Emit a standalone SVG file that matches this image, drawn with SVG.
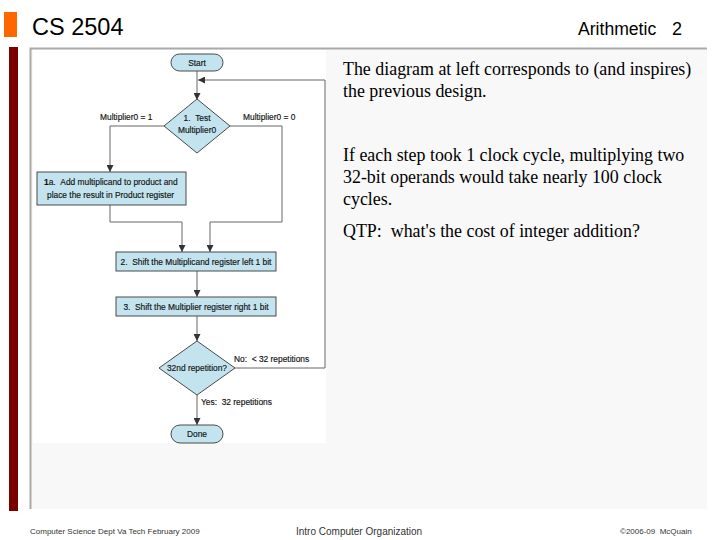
<svg xmlns="http://www.w3.org/2000/svg" width="720" height="540" viewBox="0 0 720 540">
<defs>
<marker id="ah" viewBox="0 0 10 10" refX="10" refY="5" markerWidth="7" markerHeight="7" markerUnits="userSpaceOnUse" orient="auto">
<path d="M0,0 L10,5 L0,10 z" fill="#333"/>
</marker>
<style>
.fc{fill:#c3e4ee;stroke:#4a4a4a;stroke-width:1}
.ft{font-family:"Liberation Sans",Arial,sans-serif;font-size:8.4px;fill:#111;stroke:#111;stroke-width:0.15}
.ln{fill:none;stroke:#666;stroke-width:1}
.bt{font-family:"Liberation Serif","Times New Roman",serif;font-size:17.9px;fill:#000}
.ftr{font-family:"Liberation Sans",Arial,sans-serif;fill:#333}
</style>
</defs>
<rect x="0" y="0" width="720" height="540" fill="#fff"/>
<g id="header">
<rect x="4" y="12" width="13" height="25" fill="#ff6600"/>
<text x="32" y="35" font-family="Liberation Sans,Arial,sans-serif" font-size="23.5" fill="#000">CS 2504</text>
<text x="578" y="35" font-family="Liberation Sans,Arial,sans-serif" font-size="17.6" fill="#000">Arithmetic</text>
<text x="672" y="35" font-family="Liberation Sans,Arial,sans-serif" font-size="18" fill="#000">2</text>
</g>
<g id="frame">
<rect x="9" y="47" width="9" height="464" fill="#7a0000"/>
<rect x="30" y="48" width="677" height="461" fill="#f8f8f8"/>
<path d="M30.5,509 V48.5 H707" fill="none" stroke="#aaa" stroke-width="2"/>
<rect x="33" y="50" width="293" height="393" fill="#fff"/>
</g>
<g id="connectors">
<path class="ln" d="M197,71 V100" marker-end="url(#ah)"/>
<path class="ln" d="M164,126 H110 V172" marker-end="url(#ah)"/>
<path class="ln" d="M230,126 H282 V222 H210 V252" marker-end="url(#ah)"/>
<path class="ln" d="M110,205 V222 H182 V252" marker-end="url(#ah)"/>
<path class="ln" d="M197,271 V297" marker-end="url(#ah)"/>
<path class="ln" d="M197,316 V341" marker-end="url(#ah)"/>
<path class="ln" d="M235,368 H325 V80 H198" marker-end="url(#ah)"/>
<path class="ln" d="M197,395 V425" marker-end="url(#ah)"/>
<text class="ft" x="100" y="120">Multiplier0 = 1</text>
<text class="ft" x="243" y="120">Multiplier0 = 0</text>
<text class="ft" x="234" y="362">No: &#160;&lt; 32 repetitions</text>
<text class="ft" x="201" y="405">Yes: &#160;32 repetitions</text>
</g>
<g id="start">
<rect class="fc" x="171" y="54" width="52" height="17" rx="8.5"/>
<text class="ft" x="197" y="65.5" text-anchor="middle">Start</text>
</g>
<g id="test">
<path class="fc" d="M197,99 L230,126 L197,153 L164,126 z"/>
<text class="ft" x="197" y="121" text-anchor="middle">1. &#160;Test</text>
<text class="ft" x="197" y="133" text-anchor="middle">Multiplier0</text>
</g>
<g id="add">
<rect class="fc" x="37" y="172" width="149" height="33"/>
<text class="ft" x="44" y="185"><tspan font-weight="bold">1</tspan>a. &#160;Add multiplicand to product and</text>
<text class="ft" x="47" y="198">place the result in Product register</text>
</g>
<g id="shiftleft">
<rect class="fc" x="116" y="252" width="160" height="19"/>
<text class="ft" x="196" y="264.5" text-anchor="middle">2. &#160;Shift the Multiplicand register left 1 bit</text>
</g>
<g id="shiftright">
<rect class="fc" x="116" y="297" width="160" height="19"/>
<text class="ft" x="196" y="309.5" text-anchor="middle">3. &#160;Shift the Multiplier register right 1 bit</text>
</g>
<g id="repeat">
<path class="fc" d="M197,341 L235,368 L197,395 L159,368 z"/>
<text class="ft" x="197" y="371" text-anchor="middle">32nd repetition?</text>
</g>
<g id="done">
<rect class="fc" x="171" y="425" width="52" height="18" rx="9"/>
<text class="ft" x="197" y="437" text-anchor="middle">Done</text>
</g>
<g id="body">
<text class="bt" x="343" y="75">The diagram at left corresponds to (and inspires)</text>
<text class="bt" x="343" y="97">the previous design.</text>
<text class="bt" x="343" y="161">If each step took 1 clock cycle, multiplying two</text>
<text class="bt" x="343" y="183">32-bit operands would take nearly 100 clock</text>
<text class="bt" x="343" y="205">cycles.</text>
<text class="bt" x="343" y="237">QTP: &#160;what's the cost of integer addition?</text>
</g>
<g id="footer">
<text class="ftr" x="30" y="534" font-size="8">Computer Science Dept Va Tech February 2009</text>
<text class="ftr" x="296" y="535" font-size="10">Intro Computer Organization</text>
<text class="ftr" x="620" y="534" font-size="8">©2006-09 &#160;McQuain</text>
</g>
</svg>
